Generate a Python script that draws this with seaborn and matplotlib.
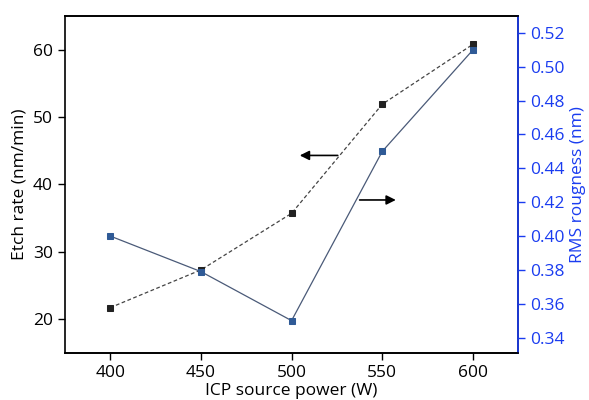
import matplotlib
matplotlib.use("Agg")
import matplotlib.pyplot as plt
import seaborn as sns
import pandas as pd

power = [400, 450, 500, 550, 600]
etch_rate = [21.7, 27.3, 35.7, 51.9, 60.8]
rms_roughness = [0.400, 0.379, 0.350, 0.450, 0.510]

sns.set_style("ticks")
plt.rcParams['font.family'] = ['Open Sans', 'DejaVu Sans']
plt.rcParams['text.color'] = 'black'
plt.rcParams['axes.labelcolor'] = 'black'
plt.rcParams['xtick.color'] = 'black'
plt.rcParams['ytick.color'] = 'black'

df = pd.DataFrame({"power": power, "etch": etch_rate, "rms": rms_roughness})

fig, ax = plt.subplots(figsize=(5.89, 4.00), dpi=100)
fig.subplots_adjust(left=0.11, right=0.88, top=0.96, bottom=0.118)
ax2 = ax.twinx()

blue = "#1a3cf0"
sns.lineplot(data=df, x="power", y="etch", ax=ax, color="#444444", lw=0.9,
             linestyle=(0, (3, 2)), marker="s", markersize=5,
             markerfacecolor="#222222", markeredgecolor="#222222")
sns.lineplot(data=df, x="power", y="rms", ax=ax2, color="#4a5a78", lw=0.9,
             marker="s", markersize=5,
             markerfacecolor="#2f5a96", markeredgecolor="#2f5a96")

ax.set_xlim(375, 625)
ax.set_ylim(15, 65)
ax2.set_ylim(0.331, 0.530)
ax.set_xticks(power)
ax.set_yticks([20, 30, 40, 50, 60])
ax2.set_yticks([0.34, 0.36, 0.38, 0.40, 0.42, 0.44, 0.46, 0.48, 0.50, 0.52])
ax2.set_yticklabels([f"{v:.2f}" for v in ax2.get_yticks()])

ax.set_xlabel("ICP source power (W)", fontsize=12.5, labelpad=2)
ax.set_ylabel("Etch rate (nm/min)", fontsize=12.5, labelpad=4)
ax2.set_ylabel("RMS rougness (nm)", fontsize=12.5, color=blue, labelpad=4)

ax.tick_params(axis="both", labelsize=12.5, direction="out", length=5, width=1,
               colors="black")
ax2.tick_params(axis="y", labelsize=12.5, direction="out", length=5, width=1,
                colors=blue)
for s in ["top", "right", "left", "bottom"]:
    ax.spines[s].set_visible(True)
    ax2.spines[s].set_visible(True)
    ax.spines[s].set_linewidth(1.2)
    ax2.spines[s].set_linewidth(1.2)
    ax.spines[s].set_color("black")
    ax2.spines[s].set_color("black")
ax2.spines["right"].set_color(blue)
ax2.spines["left"].set_visible(False)

ax.annotate("", xy=(503, 44.3), xytext=(527, 44.3),
            arrowprops=dict(arrowstyle="-|>", color="black", lw=1.2,
                            mutation_scale=14))
ax2.annotate("", xy=(559, 0.4213), xytext=(536, 0.4213),
             arrowprops=dict(arrowstyle="-|>", color="black", lw=1.2,
                             mutation_scale=14))

fig.savefig("out.png", dpi=100)
